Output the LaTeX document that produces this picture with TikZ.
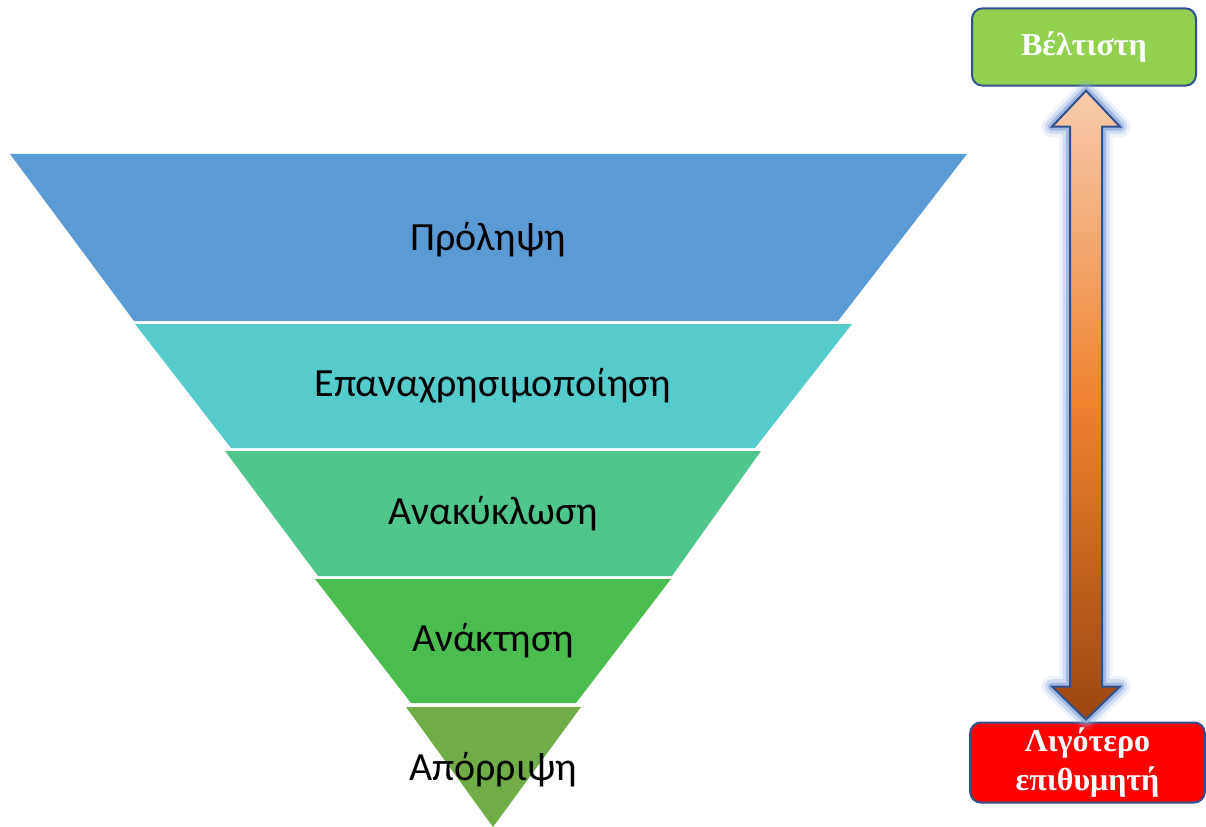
\documentclass[tikz,border=0pt]{standalone}
\usepackage{fontspec}
\setmainfont{Carlito}
\newfontfamily\boxfont{Liberation Serif}
\usetikzlibrary{calc}
\definecolor{preventblue}{HTML}{5B9BD5}
\definecolor{reuseteal}{HTML}{56CBCC}
\definecolor{recyclegreen}{HTML}{50C68C}
\definecolor{recovergreen}{HTML}{4BBD4F}
\definecolor{disposegreen}{HTML}{70AD47}
\definecolor{bestgreen}{HTML}{92D050}
\definecolor{rankline}{HTML}{2F528F}
\definecolor{glowblue}{HTML}{8FAADC}
\definecolor{peach}{HTML}{F8CBAD}
\definecolor{midorange}{HTML}{EE822F}
\definecolor{rustbrown}{HTML}{9A4610}
\pgfdeclareverticalshading{rankshade}{100bp}{color(0bp)=(rustbrown); color(25bp)=(rustbrown); color(50bp)=(midorange); color(75bp)=(peach); color(100bp)=(peach)}
% block arrow between the two rank boxes
\newcommand{\rankarrow}{(up) -- ++(34,36) -- ++(-18,0) -- ($(down)+(16,-33)$) -- ++(18,0) -- (down) -- ++(-34,-33) -- ++(18,0) -- ($(up)+(-16,36)$) -- ++(-18,0) -- cycle}

\begin{document}
\begin{tikzpicture}[x=0.75pt,y=-0.75pt,
    level/.style={font=\fontsize{30}{36}\selectfont},
    rank/.style={draw=rankline, line width=1.5pt, rounded corners=8pt, text=white,
      font=\boxfont\bfseries\fontsize{24}{29}\selectfont, align=center, inner sep=0pt}]
  \useasboundingbox (0,0) rectangle (1206,827);
  % funnel
  \fill[preventblue] (10,154) -- (967,154) -- (838,321) -- (134,321) -- cycle;
  \fill[reuseteal] (135,324) -- (852,324) -- (755,448) -- (231,448) -- cycle;
  \fill[recyclegreen] (225,451) -- (761,451) -- (672,576) -- (318,576) -- cycle;
  \fill[recovergreen] (315,579) -- (671,579) -- (576,703) -- (411,703) -- cycle;
  \fill[disposegreen] (406,707) -- (581,707) -- (493,827) -- cycle;
  \node[level] (prevent) at (488,240) {Πρόληψη};
  \node[level] (reuse) at (493,386) {Επαναχρησιμοποίηση};
  \node[level] (recycle) at (493,514) {Ανακύκλωση};
  \node[level] (recover) at (493,641) {Ανάκτηση};
  \node[level] (dispose) at (493,770) {Απόρριψη};
  % ranking
  \node[rank, fill=bestgreen, minimum width=168pt, minimum height=58pt] (best) at (1084,47) {Βέλτιστη};
  \node[rank, fill=red, minimum width=176pt, minimum height=60pt] (worst) at (1087.5,762.5) {Λιγότερο\\επιθυμητή};
  \coordinate (up) at ($(best.south)+(2,4)$);
  \coordinate (down) at ($(worst.north)+(-1.5,-2)$);
  \draw[glowblue, opacity=0.15, line width=16pt, line join=round] \rankarrow;
  \draw[glowblue, opacity=0.3, line width=11pt, line join=round] \rankarrow;
  \draw[glowblue, opacity=0.7, line width=6pt, line join=round] \rankarrow;
  \shade[shading=rankshade] \rankarrow;
  \draw[rankline, line width=1.5pt] \rankarrow;
\end{tikzpicture}
\end{document}
